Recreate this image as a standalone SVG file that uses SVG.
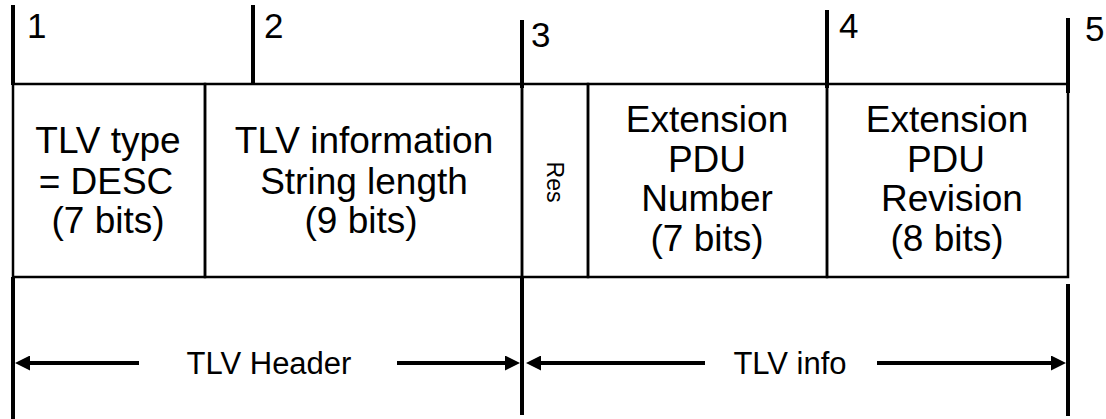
<svg xmlns="http://www.w3.org/2000/svg" width="1106" height="419" viewBox="0 0 1106 419">
  <defs>
    <style>
      .cell { fill: none; stroke: #000; stroke-width: 2.5; }
      .tick { stroke: #000; stroke-width: 4; fill: none; }
      .txt { font-family: "Liberation Sans", Arial, sans-serif; font-size: 37px; fill: #000; text-anchor: middle; }
      .num { font-family: "Liberation Sans", Arial, sans-serif; font-size: 35px; fill: #000; }
      .lbl { font-family: "Liberation Sans", Arial, sans-serif; font-size: 31px; fill: #000; text-anchor: middle; }
      .res { font-family: "Liberation Sans", Arial, sans-serif; font-size: 23px; fill: #000; text-anchor: middle; }
      .dim { stroke: #000; stroke-width: 4; fill: none; marker-end: url(#head); }
    </style>
    <marker id="head" markerUnits="userSpaceOnUse" markerWidth="15" markerHeight="15" refX="3" refY="7.5" orient="auto">
      <path d="M0,0 L15,7.5 L0,15 z" fill="#000"/>
    </marker>
  </defs>
  <rect width="1106" height="419" fill="#fff"/>

  <!-- octet boundary ticks and numbers -->
  <g id="octets">
    <line class="tick" x1="13" y1="5" x2="13" y2="85"/>
    <line class="tick" x1="253" y1="5" x2="253" y2="85"/>
    <line class="tick" x1="522" y1="20" x2="522" y2="88"/>
    <line class="tick" x1="827" y1="10" x2="827" y2="88"/>
    <line class="tick" x1="1068" y1="18" x2="1068" y2="93"/>
    <text class="num" x="27" y="38">1</text>
    <text class="num" x="264" y="38">2</text>
    <text class="num" x="531" y="47">3</text>
    <text class="num" x="839" y="38">4</text>
    <text class="num" x="1085" y="41">5</text>
  </g>

  <!-- field cells -->
  <g id="field-type">
    <rect class="cell" x="13" y="84" width="192" height="193"/>
    <text class="txt" x="108" y="153">TLV type</text>
    <text class="txt" x="106" y="193.5">= DESC</text>
    <text class="txt" x="108" y="233">(7 bits)</text>
  </g>
  <g id="field-length">
    <rect class="cell" x="205" y="84" width="317" height="193"/>
    <text class="txt" x="364" y="153">TLV information</text>
    <text class="txt" x="364" y="193.5">String length</text>
    <text class="txt" x="361" y="233">(9 bits)</text>
  </g>
  <g id="field-res">
    <rect class="cell" x="522" y="84" width="66" height="193"/>
    <text class="res" transform="translate(547,182) rotate(90)">Res</text>
  </g>
  <g id="field-number">
    <rect class="cell" x="588" y="84" width="239" height="193"/>
    <text class="txt" x="707" y="132">Extension</text>
    <text class="txt" x="707" y="171.5">PDU</text>
    <text class="txt" x="707" y="211">Number</text>
    <text class="txt" x="707" y="250.5">(7 bits)</text>
  </g>
  <g id="field-revision">
    <rect class="cell" x="827" y="84" width="241" height="193"/>
    <text class="txt" x="947" y="132">Extension</text>
    <text class="txt" x="946" y="171.5">PDU</text>
    <text class="txt" x="952" y="211">Revision</text>
    <text class="txt" x="947" y="250.5">(8 bits)</text>
  </g>

  <!-- span extents -->
  <g id="extents">
    <line class="tick" x1="13" y1="277" x2="13" y2="419"/>
    <line class="tick" x1="522" y1="277" x2="522" y2="415"/>
    <line class="tick" x1="1068" y1="284" x2="1068" y2="416"/>
  </g>

  <!-- dimension arrows -->
  <g id="connectors">
    <line class="dim" x1="139" y1="363" x2="27" y2="363"/>
    <line class="dim" x1="397" y1="363" x2="508" y2="363"/>
    <line class="dim" x1="705" y1="363" x2="538" y2="363"/>
    <line class="dim" x1="877" y1="363" x2="1054" y2="363"/>
  </g>

  <g id="span-labels">
    <text class="lbl" x="269" y="374">TLV Header</text>
    <text class="lbl" x="790" y="374">TLV info</text>
  </g>
</svg>
